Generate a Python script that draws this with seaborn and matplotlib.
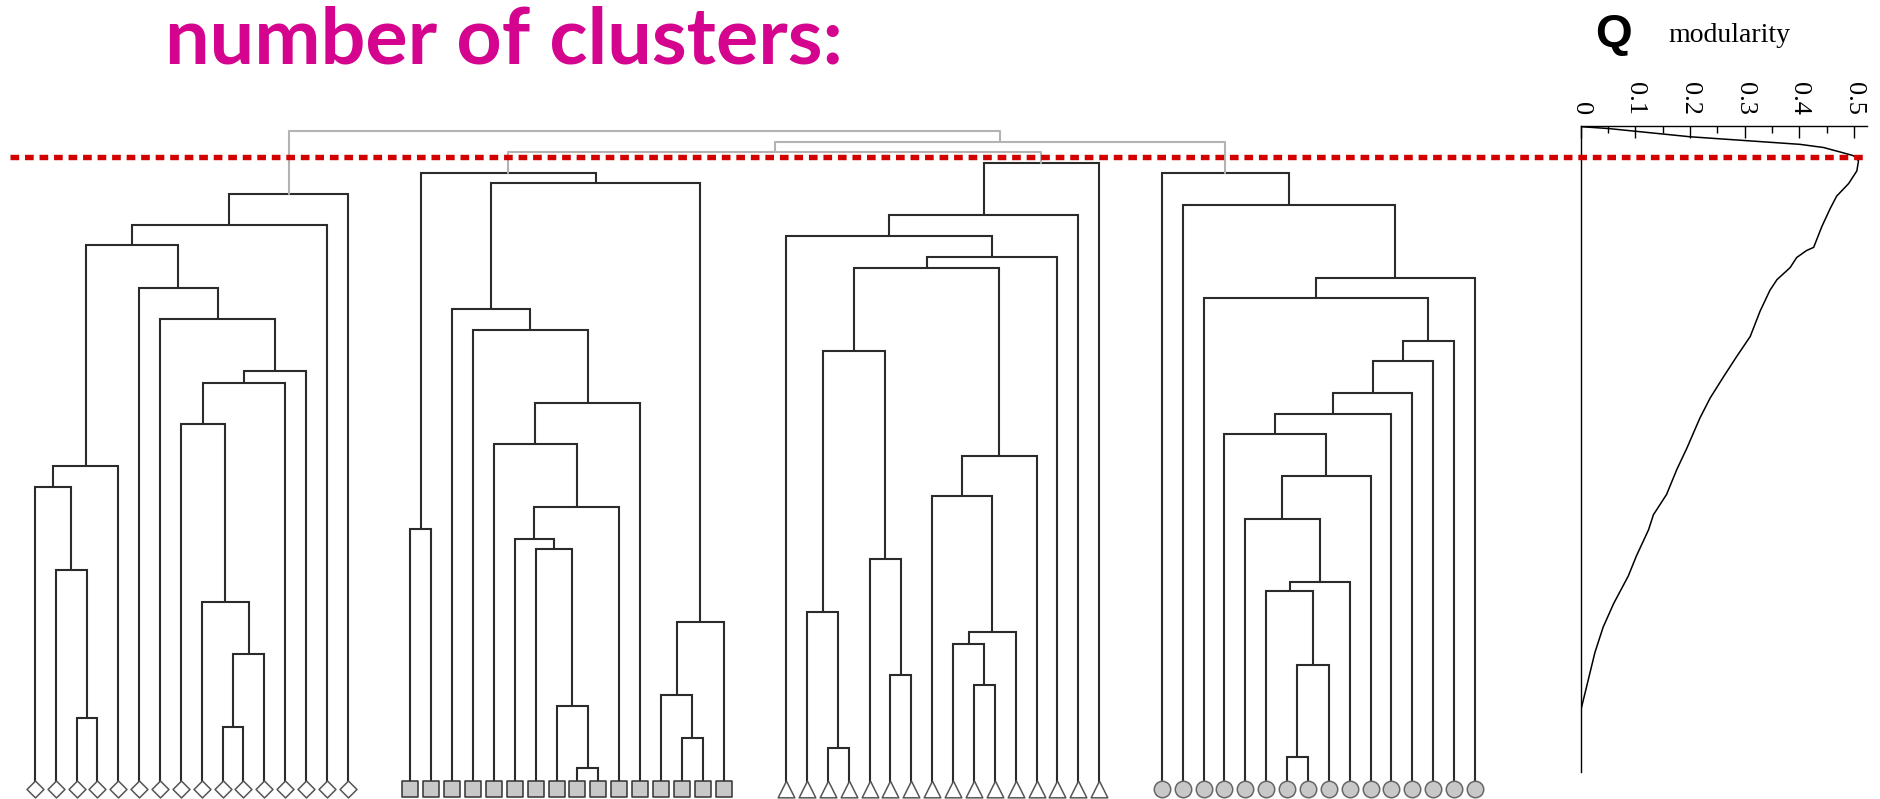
import numpy as np
import pandas as pd
import matplotlib.pyplot as plt
import seaborn as sns

sns.set_theme(style='white')
plt.rcParams['font.family'] = ['DejaVu Sans']

# ---- data -------------------------------------------------------------
n_leaves = 16

# merges inside each cluster: (left node, right node, height)
# nodes 0-15 are the leaves, merge k creates node 16 + k
merges_1 = [(2, 3, 11.3), (1, 16, 34.7), (0, 17, 47.8), (18, 4, 51.1),
            (9, 10, 9.8), (20, 11, 21.3), (8, 21, 29.6), (7, 22, 57.8),
            (23, 12, 64.2), (24, 13, 66.2), (6, 25, 74.3), (5, 26, 79.3),
            (19, 27, 86.0), (28, 14, 89.2), (29, 15, 94.1)]
merges_2 = [(8, 9, 3.3), (7, 16, 13.1), (6, 17, 37.9), (5, 18, 39.6),
            (19, 10, 44.6), (4, 20, 54.6), (21, 11, 61.1), (3, 22, 72.6),
            (2, 23, 76.0), (13, 14, 8.1), (12, 25, 14.8), (26, 15, 26.4),
            (24, 27, 95.9), (0, 1, 41.1), (29, 28, 97.5)]
merges_3 = [(2, 3, 6.5), (1, 16, 28.0), (5, 6, 18.0), (4, 18, 36.4),
            (17, 19, 69.3), (9, 10, 16.5), (8, 21, 22.9), (22, 11, 24.8),
            (7, 23, 46.3), (24, 12, 52.7), (20, 25, 82.5), (26, 13, 84.2),
            (0, 27, 87.5), (28, 14, 90.8), (29, 15, 99.1)]
merges_4 = [(6, 7, 5.0), (16, 8, 19.7), (5, 17, 31.3), (18, 9, 32.8),
            (4, 19, 42.8), (20, 10, 49.5), (3, 21, 56.2), (22, 11, 59.4),
            (23, 12, 62.6), (24, 13, 67.7), (25, 14, 70.9), (2, 26, 77.7),
            (27, 15, 80.9), (1, 28, 92.4), (0, 29, 97.5)]

# merges between cluster roots (0-3), above the cut
top_merges = [(1, 2, 100.8), (4, 3, 102.3), (0, 5, 104.1)]
cut_height = 100.0

# modularity Q along the same height axis
q_values = [0, 0.051, 0.2, 0.401, 0.444, 0.474, 0.499, 0.508, 0.505, 0.49,
            0.468, 0.456, 0.441, 0.426, 0.413, 0.395, 0.383, 0.359, 0.346,
            0.328, 0.31, 0.285, 0.261, 0.237, 0.218, 0.206, 0.194, 0.176,
            0.157, 0.133, 0.124, 0.102, 0.087, 0.06, 0.041, 0.026, 0.017,
            0.008, 0.002, 0]
q_heights = [104.8, 104.5, 103.2, 102.0, 101.5, 100.8, 100.2, 99.4, 97.8,
             95.8, 93.8, 91.8, 89.0, 85.7, 85.2, 84.1, 82.5, 80.6, 78.9,
             75.6, 71.6, 68.4, 65.2, 61.9, 58.7, 56.3, 53.9, 50.6, 46.6,
             43.4, 41.0, 36.9, 33.7, 29.3, 25.6, 21.6, 18.4, 15.2, 13.1, 12.3]
q_ticks = [0, 0.1, 0.2, 0.3, 0.4, 0.5]
q_tick_labels = ['0', '0.1', '0.2', '0.3', '0.4', '0.5']

# ---- styles -------------------------------------------------------------
dark = '#2b2b2b'
grey = '#b3b3b3'
red = '#d30000'
group_gap = 18  # leaf slots from one cluster to the next
leaf_styles = [
    dict(marker='D', s=74, facecolor='white', edgecolor='#555555'),
    dict(marker='s', s=132, facecolor='#c8c8c8', edgecolor='#333333'),
    dict(marker='^', s=144, facecolor='white', edgecolor='#555555'),
    dict(marker='o', s=140, facecolor='#c8c8c8', edgecolor='#666666'),
]

W, H = 1881, 799
fig = plt.figure(figsize=(W / 100, H / 100), dpi=100)

# modularity panel (drawn first, dendrogram axes on top)
axq = fig.add_axes([1580.7 / W, (H - 772) / H, 286 / W, (772 - 126.4) / H])
axq.patch.set_alpha(0)
sns.lineplot(x=q_values, y=q_heights, sort=False, estimator=None,
             color='black', lw=1.1, ax=axq)
axq.set_xlim(0, 0.523)
axq.set_ylim(2.69, 104.84)
for side in ['right', 'bottom']:
    axq.spines[side].set_visible(False)
for side in ['left', 'top']:
    axq.spines[side].set_color('black')
    axq.spines[side].set_linewidth(1.0)
axq.xaxis.tick_top()
axq.set_xticks(q_ticks)
axq.set_xticklabels(q_tick_labels)
axq.set_xticks(np.array(q_ticks[:-1]) + 0.05, minor=True)
axq.tick_params(axis='x', which='major', direction='in', length=8.6, width=1,
                color='black', top=True, bottom=False, labeltop=True,
                labelbottom=False, pad=8, labelrotation=-90, labelsize=19,
                labelfontfamily='Liberation Serif', labelcolor='black')
axq.tick_params(axis='x', which='minor', direction='in', length=5, width=1,
                color='black', top=True, bottom=False)
axq.set_yticks([])
axq.set_xlabel('')
axq.set_ylabel('')

# dendrogram axes spanning the figure
ax = fig.add_axes([0, 0, 1, 1])
ax.patch.set_alpha(0)
ax.set_xlim(-1.667, 88.46)
ax.set_ylim(-1.58, 124.84)
ax.axis('off')

roots = []
for g, merges in enumerate([merges_1, merges_2, merges_3, merges_4]):
    xs = {i: g * group_gap + i for i in range(n_leaves)}
    hs = {i: 0.0 for i in range(n_leaves)}
    for k, (a, b, h) in enumerate(merges):
        ax.plot([xs[a], xs[a], xs[b], xs[b]], [hs[a], h, h, hs[b]],
                color=dark, lw=1.5, solid_joinstyle='miter', zorder=2)
        xs[n_leaves + k] = (xs[a] + xs[b]) / 2
        hs[n_leaves + k] = h
    last = n_leaves + len(merges) - 1
    roots.append((xs[last], hs[last]))
    leaves = pd.DataFrame({'x': [xs[i] for i in range(n_leaves)],
                           'y': np.zeros(n_leaves)})
    st = leaf_styles[g]
    sns.scatterplot(data=leaves, x='x', y='y', marker=st['marker'], s=st['s'],
                    color=st['facecolor'], edgecolor=st['edgecolor'],
                    linewidth=1.1, zorder=3, ax=ax, legend=False)

nodes = list(roots)
for a, b, h in top_merges:
    (xa, ha), (xb, hb) = nodes[a], nodes[b]
    ax.plot([xa, xa, xb, xb], [ha, h, h, hb], color=grey, lw=1.5, zorder=2)
    nodes.append(((xa + xb) / 2, h))

# cut line
ax.plot([-1.19, 87.84], [cut_height, cut_height], color=red, lw=3.9,
        dashes=(1.6, 1.08), zorder=5)
ax.set_xlabel('')
ax.set_ylabel('')

fig.text(165 / W, 1 - 63 / H, 'number of clusters:', fontsize=57,
         fontweight='bold', color='#d5048f', family=['Lato', 'DejaVu Sans'],
         ha='left', va='baseline')
fig.text(1595 / W, 1 - 47 / H, 'Q', fontsize=34, fontweight='bold',
         color='black', family=['Liberation Sans'], ha='left', va='baseline')
fig.text(1668 / W, 1 - 42 / H, 'modularity', fontsize=20, color='black',
         family=['Liberation Serif'], ha='left', va='baseline')

fig.savefig('out.png', dpi=100)
